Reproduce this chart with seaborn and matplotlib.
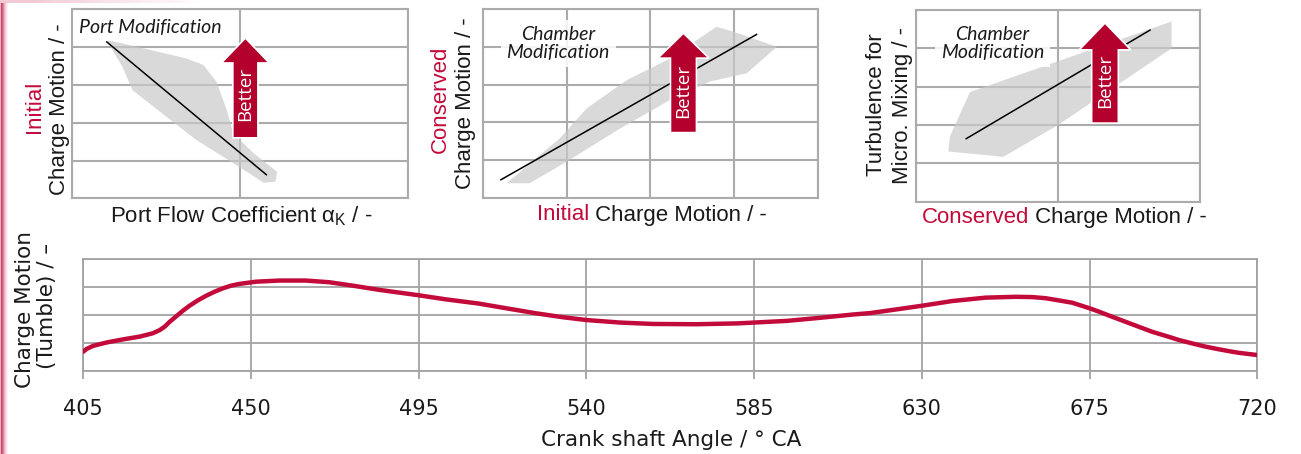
import numpy as np
import matplotlib
matplotlib.use("Agg")
import matplotlib.pyplot as plt
from matplotlib.patches import FancyArrow
from matplotlib.colors import to_rgb
import seaborn as sns

sns.set_theme(style="white")
plt.rcParams['font.family'] = ['Liberation Sans', 'DejaVu Sans']
plt.rcParams['mathtext.fontset'] = 'custom'
plt.rcParams['mathtext.rm'] = 'Liberation Sans'

W, H = 1301, 454
RED = '#c30b3b'
ARROW_RED = '#b3002d'
GRID = '#ababab'
BAND = '#c9c9c9'
INK = '#1a1a1a'

# ---- data: port modification (initial charge motion vs flow coefficient) ----
port_line_x = [0.206, 1.157]
port_line_y = [4.14, 0.62]
port_band_x = [0.202, 0.68, 0.78, 0.86, 0.92, 0.96, 1.08, 1.22, 1.21, 1.14, 0.96, 0.74, 0.46, 0.36, 0.30]
port_band_y = [4.20, 3.70, 3.53, 3.08, 2.34, 1.72, 1.19, 0.70, 0.44, 0.41, 0.93, 1.54, 2.51, 2.86, 3.48]

# ---- data: chamber modification (conserved vs initial charge motion) ----
cons_line_x = [0.215, 3.27]
cons_line_y = [0.48, 4.33]
cons_band_x = [0.286, 0.56, 1.00, 1.64, 2.20, 2.71, 3.15, 3.51, 2.99, 2.79, 2.20, 1.72, 1.24, 0.92]
cons_band_y = [0.39, 0.39, 0.96, 1.84, 2.55, 3.08, 3.30, 4.00, 4.40, 4.53, 3.65, 3.12, 2.37, 1.58]

# ---- data: chamber modification (turbulence vs conserved charge motion) ----
turb_line_x = [0.352, 1.65]
turb_line_y = [1.64, 4.48]
turb_band_x = [0.228, 0.239, 0.38, 1.80, 1.80, 1.00, 0.615]
turb_band_y = [1.31, 1.70, 2.86, 4.70, 4.00, 2.00, 1.17]

# ---- data: tumble over crank angle ----
crank_angle = [405, 405.9, 407.7, 411.3, 415.7, 420.2, 423.7, 425.5, 426.8, 428.2, 430, 431.7,
               433.5, 435.7, 438, 440.2, 442.4, 444.7, 446.9, 449.1, 451.4, 457.6, 464.7, 471,
               477.2, 484.3, 494.7, 502.2, 511, 517.6, 526.5, 533.7, 540, 549, 557.9, 569.6,
               580.4, 585, 593.8, 602.7, 611.7, 616.2, 622.1, 630, 638.2, 647.1, 655.2, 659.6,
               663.2, 666.8, 670.3, 675, 677.5, 681, 684.6, 688.2, 691.8, 695.3, 698.9, 702.4,
               706.1, 709.5, 713.2, 715, 720]
tumble = [0.69, 0.79, 0.90, 1.02, 1.13, 1.23, 1.35, 1.46, 1.58, 1.76, 1.96, 2.15,
          2.33, 2.52, 2.69, 2.83, 2.95, 3.05, 3.11, 3.15, 3.19, 3.23, 3.23, 3.17,
          3.05, 2.90, 2.71, 2.56, 2.41, 2.26, 2.06, 1.92, 1.82, 1.73, 1.68, 1.67,
          1.70, 1.73, 1.79, 1.90, 2.02, 2.07, 2.18, 2.33, 2.50, 2.62, 2.65, 2.64,
          2.60, 2.52, 2.44, 2.24, 2.12, 1.94, 1.76, 1.58, 1.40, 1.26, 1.11, 0.99,
          0.87, 0.78, 0.69, 0.65, 0.57]
crank_ticks = list(range(405, 721, 45))

fig = plt.figure(figsize=(W / 100, H / 100), dpi=100)


def fx(px):
    return px / W


def fy(py):
    return 1 - py / H


def px_axes(left, top, right, bottom):
    return fig.add_axes([left / W, 1 - bottom / H, (right - left) / W, (bottom - top) / H])


def style_top(ax, ncols):
    ax.set_xlim(0, ncols)
    ax.set_ylim(0, 5)
    ax.set_xticks(range(ncols + 1))
    ax.set_yticks(range(6))
    ax.set_xticklabels([])
    ax.set_yticklabels([])
    ax.tick_params(length=0)
    ax.grid(True, color=GRID, lw=1.5)
    for s in ax.spines.values():
        s.set_color(GRID)
        s.set_linewidth(1.5)


def better_arrow(ax, xc, y0, y1, shaft, head, head_len, ytext):
    ax.add_patch(FancyArrow(xc, y0, 0, y1 - y0, width=shaft, head_width=head,
                            head_length=head_len, length_includes_head=True,
                            fc=ARROW_RED, ec='white', lw=1.2, zorder=5))
    ax.text(xc, ytext, 'Better', rotation=90, ha='center', va='center', color='white',
            fontsize=13.5, family='Open Sans', zorder=6)


def note(ax, x, y, s, alpha):
    ax.text(x, y, s, style='italic', family='Lato', fontsize=14, color=INK,
            ha='center', va='center', linespacing=1.1, multialignment='center', zorder=4,
            bbox=dict(boxstyle='square,pad=0.3', fc='white', ec='none', alpha=alpha))


# panel 1
ax1 = px_axes(72, 9.3, 408.3, 198.3)
style_top(ax1, 2)
ax1.fill(port_band_x, port_band_y, color=BAND, alpha=0.7, lw=0, zorder=1.5)
sns.lineplot(x=port_line_x, y=port_line_y, ax=ax1, color='black', lw=1.1, zorder=3)
better_arrow(ax1, 1.031, 1.6, 4.24, 0.149, 0.285, 0.66, 2.76)
note(ax1, 0.464, 4.53, 'Port Modification', 1.0)

# panel 2
ax2 = px_axes(482.7, 9, 818, 198)
style_top(ax2, 4)
ax2.fill(cons_band_x, cons_band_y, color=BAND, alpha=0.7, lw=0, zorder=1.5)
sns.lineplot(x=cons_line_x, y=cons_line_y, ax=ax2, color='black', lw=1.1, zorder=3)
better_arrow(ax2, 2.395, 1.73, 4.36, 0.31, 0.61, 0.66, 2.84)
note(ax2, 0.90, 4.09, 'Chamber\nModification', 0.85)

# panel 3
ax3 = px_axes(916, 10, 1200, 201.7)
style_top(ax3, 2)
ax3.fill(turb_band_x, turb_band_y, color=BAND, alpha=0.7, lw=0, zorder=1.5)
sns.lineplot(x=turb_line_x, y=turb_line_y, ax=ax3, color='black', lw=1.1, zorder=3)
better_arrow(ax3, 1.331, 2.05, 4.66, 0.188, 0.364, 0.70, 3.15)
note(ax3, 0.537, 4.12, 'Chamber\nModification', 0.85)

for ax in (ax1, ax2, ax3):
    ax.set_xlabel('')
    ax.set_ylabel('')

# axis titles of the top panels
lab = dict(fontsize=16, color=INK, ha='center', va='center')
fig.text(fx(34.7), fy(107), 'Initial', rotation=90, **{**lab, 'color': RED})
fig.text(fx(60), fy(109), 'Charge Motion / -', rotation=90, **lab)
fig.text(fx(240.8), fy(216.7), 'Port Flow Coefficient α$_\\mathregular{K}$ / -', **lab)

fig.text(fx(440), fy(99), 'Conserved', rotation=90, **{**lab, 'color': RED})
fig.text(fx(465.8), fy(103), 'Charge Motion / -', rotation=90, **lab)
t = fig.text(fx(536.7), fy(215), 'Initial', fontsize=16, color=RED, ha='left', va='center')
ax2.annotate(' Charge Motion / -', xy=(1, 0), xycoords=t, ha='left', va='bottom',
             fontsize=16, color=INK)

fig.text(fx(876.7), fy(105), 'Turbulence for', rotation=90, **lab)
fig.text(fx(902.5), fy(106), 'Micro. Mixing / -', rotation=90, **lab)
t = fig.text(fx(921.7), fy(218), 'Conserved', fontsize=16, color=RED, ha='left', va='center')
ax3.annotate(' Charge Motion / -', xy=(1, 0), xycoords=t, ha='left', va='bottom',
             fontsize=16, color=INK)

# bottom panel: tumble curve
ax4 = px_axes(83.3, 259, 1257.3, 371)
sns.lineplot(x=crank_angle, y=tumble, ax=ax4, color=RED, lw=3.2, zorder=3,
             solid_joinstyle='round')
ax4.set_xlim(405, 720)
ax4.set_ylim(0, 4)
ax4.set_xticks(crank_ticks)
ax4.set_yticks(range(5))
ax4.set_yticklabels([])
ax4.set_xlabel('')
ax4.set_ylabel('')
ax4.grid(True, color='#a3a3a3', lw=1.3)
for s in ax4.spines.values():
    s.set_color('#a3a3a3')
    s.set_linewidth(1.3)
ax4.tick_params(axis='x', bottom=True, length=6, width=1.3, color='#a3a3a3', pad=14.5,
                labelsize=15, labelcolor=INK, labelfontfamily='DejaVu Sans')
ax4.tick_params(axis='y', left=False, length=0)

bot = dict(ha='center', va='center', family='DejaVu Sans', fontsize=15.5, color=INK)
fig.text(fx(25.5), fy(310), 'Charge Motion', rotation=90, **bot)
fig.text(fx(47), fy(306), '(Tumble) / –', rotation=90, **bot)
fig.text(fx(671), fy(440), 'Crank shaft Angle / ° CA', **bot)

# pink page edge from the slide
edge_cols = ['#eab3c0', '#d2476a', '#d65a7a', '#e08aa0', '#eab0bf', '#f2ccd6', '#f8e3e9', '#fcf1f4', '#ffffff']
edge = fig.add_axes([0, 0, len(edge_cols) / W, 1])
edge.imshow(np.array([[to_rgb(c) for c in edge_cols]]), aspect='auto')
edge.axis('off')
top_cols = ['#f3c9d3', '#f6d6de', '#f9e4ea', '#fcf1f4', '#ffffff']
top = fig.add_axes([0, 1 - 3 / H, 230 / W, 3 / H])
top.imshow(np.array([[to_rgb(c) for c in top_cols]]), aspect='auto')
top.axis('off')

fig.savefig('out.png', dpi=100)
